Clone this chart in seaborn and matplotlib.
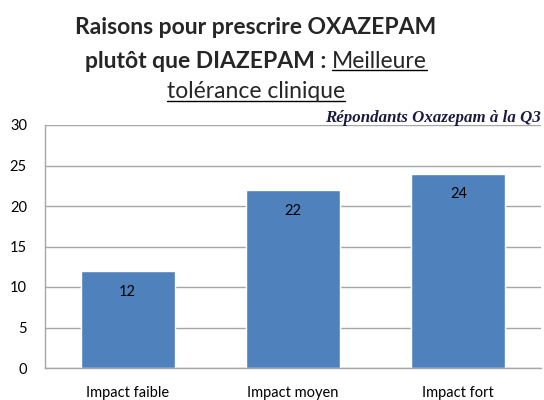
import matplotlib
matplotlib.use("Agg")
import matplotlib.pyplot as plt
import seaborn as sns
from matplotlib.lines import Line2D

# data
categories = ["Impact faible", "Impact moyen", "Impact fort"]
values = [12, 22, 24]
yticks = [0, 5, 10, 15, 20, 25, 30]

sns.set_theme(style="white")
plt.rcParams['font.family'] = ['Lato', 'DejaVu Sans']

fig = plt.figure(figsize=(5.44, 4.00), dpi=100)
ax = fig.add_axes([45/544, 32/400, 496/544, 243/400])

sns.barplot(x=categories, y=values, color="#4F81BD", saturation=1,
            width=0.57, ax=ax)
ax.bar_label(ax.containers[0], padding=-20, fontsize=10.5, color="black")

ax.set_ylim(0, 30)
ax.set_xlim(-0.5, 2.5)
ax.set_yticks(yticks)
ax.yaxis.grid(True, color="#a6a6a6", lw=1)
ax.set_axisbelow(True)
for s in ["top", "right"]:
    ax.spines[s].set_visible(False)
for s in ["left", "bottom"]:
    ax.spines[s].set_color("#a6a6a6")
    ax.spines[s].set_linewidth(1)
ax.tick_params(axis="both", length=0, labelsize=10.5, colors="black")
ax.tick_params(axis="y", pad=13)
ax.tick_params(axis="x", pad=13)
ax.set_xlabel("")
ax.set_ylabel("")

# title, three lines with mixed bold / underlined parts
cx = 256 / 544
fs = 16.5
fig.text(cx, 1 - 28/400, "Raisons pour prescrire OXAZEPAM", ha="center",
         va="center", fontsize=fs, fontweight="bold")

fig.canvas.draw()
r = fig.canvas.get_renderer()
t_bold = fig.text(0, 1 - 61/400, "plutôt que DIAZEPAM : ", va="center",
                  fontsize=fs, fontweight="bold")
t_reg = fig.text(0, 1 - 61/400, "Meilleure", va="center", fontsize=fs)
wb = t_bold.get_window_extent(r).width
wr = t_reg.get_window_extent(r).width
x0 = cx * 544 - (wb + wr) / 2
t_bold.set_x(x0 / 544)
t_reg.set_x((x0 + wb) / 544)
t_line3 = fig.text(cx, 1 - 92/400, "tolérance clinique", ha="center",
                   va="center", fontsize=fs)

fig.canvas.draw()
for t in [t_reg, t_line3]:
    bb = t.get_window_extent(r)
    yline = bb.y0 + 1.5
    fig.add_artist(Line2D([bb.x0 / 544, bb.x1 / 544], [yline / 400, yline / 400],
                          color="black", lw=1))

fig.text(541/544, 1 - 122/400, "Répondants Oxazepam à la Q3", ha="right",
         va="baseline", fontsize=12.2, fontstyle="italic", fontweight="bold",
         family=["Liberation Serif"], color="#1a1a40")

fig.savefig("out.png", dpi=100)
